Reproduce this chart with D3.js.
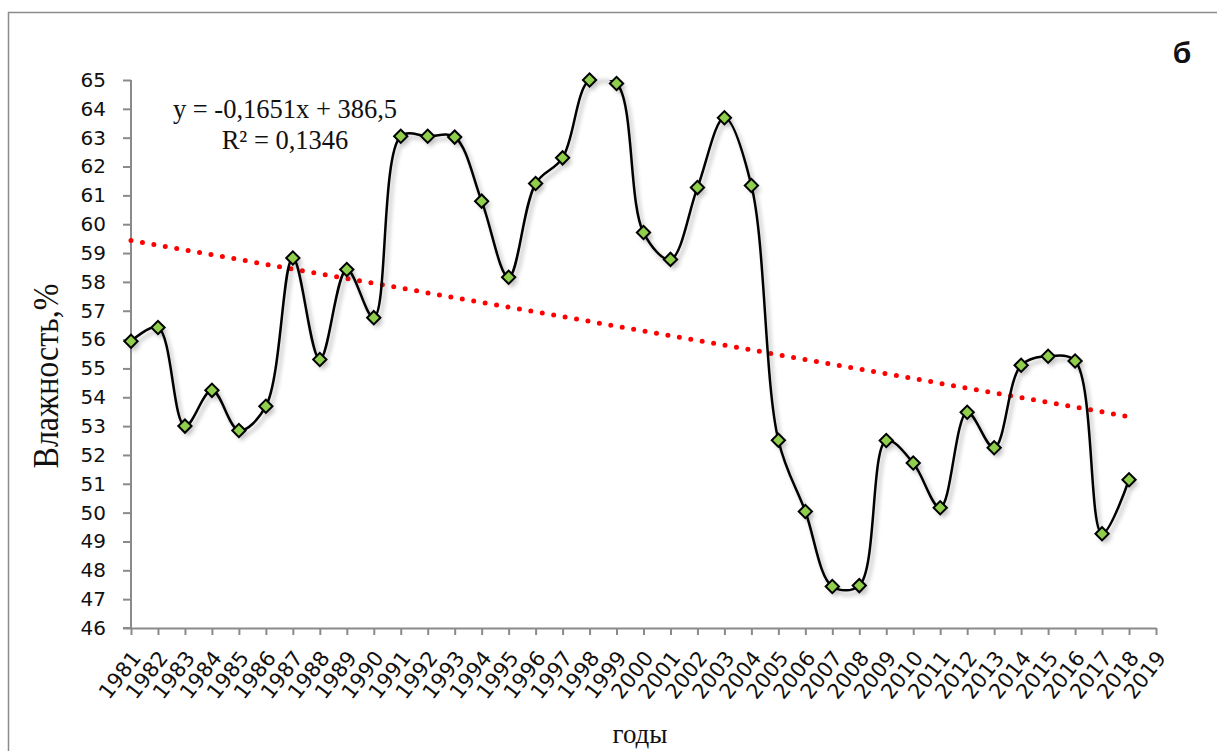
<!DOCTYPE html>
<html>
<head>
<meta charset="utf-8">
<script src="https://cdn.jsdelivr.net/npm/d3@7"></script>
<style>
  html, body { margin: 0; padding: 0; background: #fff; }
  svg { display: block; }
</style>
</head>
<body>
<svg id="chart" width="1217" height="751"></svg>
<script>
// Годы (категории оси X) — последняя категория без значения
const years = ["1981","1982","1983","1984","1985","1986","1987","1988","1989","1990",
  "1991","1992","1993","1994","1995","1996","1997","1998","1999","2000",
  "2001","2002","2003","2004","2005","2006","2007","2008","2009","2010",
  "2011","2012","2013","2014","2015","2016","2017","2018","2019"];

// Среднегодовая влажность, %
const humidity = [55.94, 56.42, 53.00, 54.24, 52.85, 53.69, 58.83, 55.31, 58.43, 56.76,
  63.05, 63.05, 63.02, 60.80, 58.16, 61.41, 62.30, 65.00, 64.88, 59.71,
  58.78, 61.27, 63.69, 61.34, 52.51, 50.04, 47.44, 47.47, 52.50, 51.72,
  50.17, 53.48, 52.25, 55.11, 55.42, 55.26, 49.27, 51.14];

// Линейный тренд y = a·x + b
const trendSlope = -0.1651;
const trendIntercept = 386.5;

const yTicks = d3.range(46, 66, 1);

const svg = d3.select("#chart");
const plot = { left: 131, right: 1156, top: 80, bottom: 628 };

const x = d3.scalePoint().domain(years).range([plot.left, plot.right]).padding(0);
const y = d3.scaleLinear().domain([46, 65]).range([plot.bottom, plot.top]);

const defs = svg.append("defs");
defs.append("clipPath").attr("id", "plotClip")
  .append("rect")
  .attr("x", plot.left - 10).attr("y", plot.top)
  .attr("width", plot.right - plot.left + 20).attr("height", plot.bottom - plot.top);
const shadow = defs.append("filter").attr("id", "shadow")
  .attr("x", "-20%").attr("y", "-20%").attr("width", "140%").attr("height", "140%");
shadow.append("feGaussianBlur").attr("stdDeviation", 2.2);

// Рамка области диаграммы
svg.append("rect")
  .attr("x", 8.5).attr("y", 12.5)
  .attr("width", 1240).attr("height", 760)
  .attr("fill", "none").attr("stroke", "#8c8c8c").attr("stroke-width", 1.5);

// Оси
const axisColor = "#8a8a8a";
const yAxis = svg.append("g")
  .attr("transform", `translate(${plot.left},0)`)
  .call(d3.axisLeft(y).tickValues(yTicks).tickSize(8).tickPadding(17).tickFormat(d3.format("d")));
const xAxis = svg.append("g")
  .attr("transform", `translate(0,${plot.bottom})`)
  .call(d3.axisBottom(x).tickSize(7).tickSizeOuter(0));

[yAxis, xAxis].forEach(g => {
  g.select(".domain").attr("stroke", axisColor).attr("stroke-width", 2);
  g.selectAll(".tick line").attr("stroke", axisColor).attr("stroke-width", 2);
});
yAxis.select(".domain").attr("d", `M0,${plot.top}V${plot.bottom}`);
// продолжение оси X до деления 46
svg.append("line")
  .attr("x1", plot.left - 8).attr("x2", plot.left)
  .attr("y1", plot.bottom).attr("y2", plot.bottom)
  .attr("stroke", axisColor).attr("stroke-width", 2);

yAxis.selectAll(".tick text")
  .attr("font-family", "DejaVu Sans, sans-serif")
  .attr("font-size", 20).attr("fill", "#111");

xAxis.selectAll(".tick text")
  .attr("font-family", "DejaVu Sans, sans-serif")
  .attr("font-size", 21).attr("fill", "#111")
  .attr("text-anchor", "end")
  .attr("dy", null).attr("y", 0)
  .attr("dominant-baseline", "central")
  .attr("transform", "translate(5,26) rotate(-52)");

// Линия тренда (красный пунктир из точек)
const trendYears = [years[0], years[humidity.length - 1]];
svg.append("line")
  .attr("x1", x(trendYears[0]))
  .attr("y1", y(trendSlope * (+trendYears[0]) + trendIntercept))
  .attr("x2", x(trendYears[1]))
  .attr("y2", y(trendSlope * (+trendYears[1]) + trendIntercept))
  .attr("stroke", "#ff0000").attr("stroke-width", 5)
  .attr("stroke-linecap", "round").attr("stroke-dasharray", "0 11.6");

const points = humidity.map((v, i) => ({ year: years[i], value: v }));
const line = d3.line()
  .x(d => x(d.year)).y(d => y(d.value))
  .curve(d3.curveCatmullRom.alpha(0.5));

// Тень сглаженной линии и маркеров
const shadowG = svg.append("g")
  .attr("transform", "translate(3,4)")
  .attr("filter", "url(#shadow)")
  .attr("opacity", 0.35);
shadowG.append("path").attr("d", line(points))
  .attr("fill", "none").attr("stroke", "#555").attr("stroke-width", 3);

// Сглаженная линия
svg.append("path")
  .attr("d", line(points))
  .attr("clip-path", "url(#plotClip)")
  .attr("fill", "none").attr("stroke", "#000").attr("stroke-width", 2.5);

// Маркеры-ромбы
const diamond = d3.symbol().type(d3.symbolSquare).size(88);
shadowG.selectAll("path.m").data(points).join("path")
  .attr("class", "m")
  .attr("d", diamond)
  .attr("transform", d => `translate(${x(d.year)},${y(d.value)}) rotate(45)`)
  .attr("fill", "#555");
svg.append("g").selectAll("path").data(points).join("path")
  .attr("d", diamond)
  .attr("transform", d => `translate(${x(d.year)},${y(d.value)}) rotate(45)`)
  .attr("fill", "#8fcf4c").attr("stroke", "#000").attr("stroke-width", 2)
  .attr("stroke-linejoin", "miter");

// Уравнение тренда
const eq = svg.append("text")
  .attr("font-family", "Liberation Serif, Times New Roman, serif")
  .attr("font-size", 26.5).attr("fill", "#111").attr("text-anchor", "middle");
eq.append("tspan").attr("x", 285).attr("y", 118).text("y = -0,1651x + 386,5");
eq.append("tspan").attr("x", 285).attr("y", 149).text("R² = 0,1346");

// Подписи осей
svg.append("text")
  .attr("transform", "translate(58,376) scale(1.15,1) rotate(-90)")
  .attr("font-family", "Liberation Serif, Times New Roman, serif")
  .attr("font-size", 32).attr("fill", "#111").attr("text-anchor", "middle")
  .text("Влажность,%");

svg.append("text")
  .attr("x", 640).attr("y", 743)
  .attr("font-family", "Liberation Serif, Times New Roman, serif")
  .attr("font-size", 27).attr("fill", "#111").attr("text-anchor", "middle")
  .text("годы");

// Буква панели
svg.append("text")
  .attr("x", 1182).attr("y", 63)
  .attr("font-family", "Liberation Sans, Arial, sans-serif")
  .attr("font-weight", "bold")
  .attr("font-size", 30).attr("fill", "#111").attr("text-anchor", "middle")
  .text("б");
</script>
</body>
</html>
